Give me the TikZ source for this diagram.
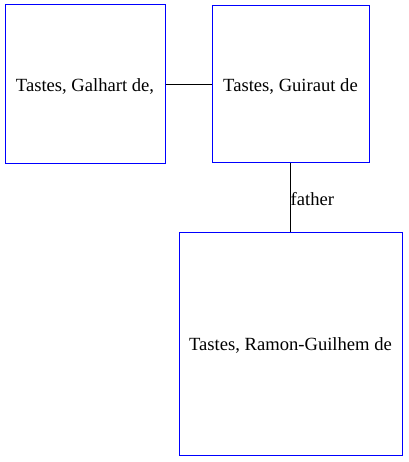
\documentclass[tikz,border=0pt]{standalone}
\usepackage{fontspec}
\setmainfont{Liberation Serif}
\begin{document}
\begin{tikzpicture}[x=1pt,y=1pt,
  person/.style={draw=blue, line width=1pt, inner sep=0pt, fill=white,
    font=\fontsize{18.6}{21}\selectfont, align=center},
  link/.style={draw=black, line width=1pt},
  lbl/.style={font=\fontsize{18.6}{21}\selectfont, inner sep=0pt, anchor=west}]
\useasboundingbox (0,0) rectangle (408,-462);
\node[person, minimum width=160, minimum height=159] (g) at (85,-84.5) {};
\node[person, minimum width=157, minimum height=157] (gu) at (290.5,-84.5) {};
\node[person, minimum width=223, minimum height=223] (r) at (290.5,-343.5) {};
\node[font=\fontsize{18.6}{21}\selectfont, inner sep=0pt] (gt) at ([yshift=-1.5]g.center) {Tastes, Galhart de,};
\node[font=\fontsize{18.6}{21}\selectfont, inner sep=0pt] (gut) at ([yshift=-1.5]gu.center) {Tastes, Guiraut de};
\node[font=\fontsize{18.6}{21}\selectfont, inner sep=0pt] (rt) at ([yshift=-1.5]r.center) {Tastes, Ramon-Guilhem de};
\draw[link] (g.east) -- (gu.west);
\draw[link] (gu.south) -- (r.north);
\node[lbl] (f) at (290.5,-199.5) {father};
\end{tikzpicture}
\end{document}
